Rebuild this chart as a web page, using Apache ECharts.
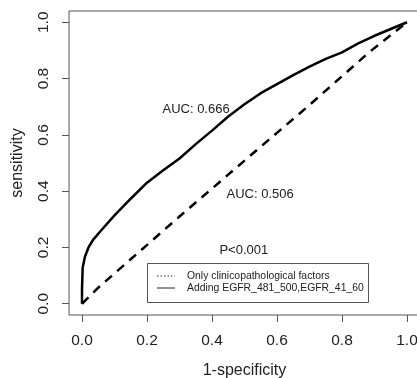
<!DOCTYPE html>
<html><head><meta charset="utf-8">
<script src="https://cdn.jsdelivr.net/npm/echarts@6/dist/echarts.min.js"></script>
<style>html,body{margin:0;padding:0;background:#fff}#c{width:417px;height:378px}</style>
</head><body><div id="c"></div>
<script>
// tick marks and labels
const tickValues = [0, 0.2, 0.4, 0.6, 0.8, 1.0];
// ROC curve: adding EGFR_481_500, EGFR_41_60 (AUC 0.666)
const fprNew = [0, 0, 0.002, 0.009, 0.02, 0.034, 0.06, 0.1, 0.15, 0.2, 0.25, 0.3, 0.35, 0.4, 0.45, 0.5, 0.55, 0.6, 0.65, 0.7, 0.75, 0.8, 0.85, 0.9, 0.95, 1];
const tprNew = [0, 0.05, 0.128, 0.167, 0.2, 0.227, 0.262, 0.314, 0.373, 0.43, 0.474, 0.516, 0.567, 0.615, 0.665, 0.709, 0.748, 0.78, 0.812, 0.842, 0.87, 0.893, 0.925, 0.952, 0.976, 1];
// ROC curve: only clinicopathological factors (AUC 0.506)
const fprBase = [0, 0.05, 0.3, 0.54, 0.7, 0.88, 1];
const tprBase = [0, 0.057, 0.31, 0.548, 0.706, 0.89, 1];
// annotations
const annTexts = ['AUC: 0.666', 'AUC: 0.506', 'P<0.001'];
const annX = [0.351, 0.548, 0.498];
const annY = [0.69, 0.39, 0.19];
const legendNames = ['Only clinicopathological factors', 'Adding EGFR_481_500,EGFR_41_60'];

const FONT = 'Liberation Sans, Arial, sans-serif';
const chart = echarts.init(document.getElementById('c'), null, {renderer: 'canvas'});
const pairs = (xs, ys) => xs.map((x, i) => [x, ys[i]]);

const axisCommon = {
  type: 'value', min: -0.04, max: 1.04,
  splitLine: {show: false},
  axisLine: {show: false, onZero: false},
  axisTick: {show: true, customValues: tickValues, length: 7, inside: false, lineStyle: {color: '#555', width: 1}},
  axisLabel: {customValues: tickValues, formatter: v => v.toFixed(1), fontSize: 15.5, color: '#222', fontFamily: FONT},
  nameLocation: 'middle',
  nameMoveOverlap: false,
  nameTextStyle: {fontSize: 16, color: '#222', fontFamily: FONT}
};

chart.setOption({
  animation: false,
  backgroundColor: '#fff',
  grid: {left: 69, top: 11, right: -3, bottom: 63, containLabel: false, outerBoundsMode: 'none',
         show: true, borderColor: '#555', borderWidth: 1, backgroundColor: 'transparent'},
  xAxis: Object.assign({}, axisCommon, {
    name: '1-specificity', nameGap: 48,
    axisLabel: Object.assign({}, axisCommon.axisLabel, {margin: 18})
  }),
  yAxis: Object.assign({}, axisCommon, {
    name: 'sensitivity', nameGap: 43,
    axisLabel: Object.assign({}, axisCommon.axisLabel, {margin: 17, rotate: 90})
  }),
  series: [
    {name: legendNames[0], type: 'line', data: pairs(fprBase, tprBase), showSymbol: false, symbol: 'none',
     lineStyle: {color: '#000', width: 2.5, type: [9, 7]}},
    {name: legendNames[1], type: 'line', data: pairs(fprNew, tprNew), showSymbol: false, symbol: 'none',
     lineStyle: {color: '#000', width: 2.5, type: 'solid'}}
  ]
});

const ann = annTexts.map((t, i) => {
  const p = chart.convertToPixel({gridIndex: 0}, [annX[i], annY[i]]);
  return {type: 'text', x: p[0], y: p[1], style: {text: t, fill: '#222', font: '13px ' + FONT, align: 'center', verticalAlign: 'middle'}};
});
const legendG = [
  {type: 'rect', shape: {x: 147.5, y: 263.5, width: 221, height: 39}, style: {fill: 'none', stroke: '#555', lineWidth: 1}},
  {type: 'line', shape: {x1: 157, y1: 276, x2: 175, y2: 276}, style: {stroke: '#333', lineWidth: 1, lineDash: [1.5, 2]}},
  {type: 'line', shape: {x1: 157, y1: 288, x2: 175, y2: 288}, style: {stroke: '#222', lineWidth: 1}},
  {type: 'text', x: 187, y: 276, style: {text: legendNames[0], font: '10.4px ' + FONT, fill: '#222', verticalAlign: 'middle'}},
  {type: 'text', x: 187, y: 288, style: {text: legendNames[1], font: '10.4px ' + FONT, fill: '#222', verticalAlign: 'middle'}}
];
chart.setOption({graphic: ann.concat(legendG)});
</script>
</body></html>
